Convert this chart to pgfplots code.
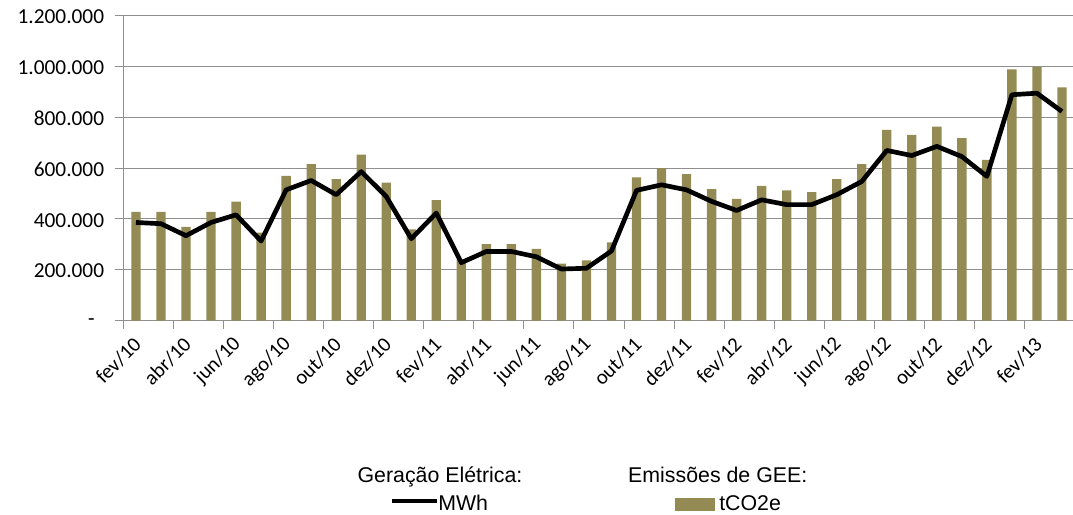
\documentclass[border=0pt]{standalone}
\usepackage{fontspec}
\setmainfont{Carlito}
\newfontfamily\legendfont{Liberation Sans}
\usepackage{pgfplots}
\pgfplotsset{compat=1.18}
\definecolor{barolive}{HTML}{948A54}
\definecolor{gridgray}{HTML}{8F8F8F}

% monthly values, fev/10 .. mar/13
\pgfplotstableread{
idx tco2e  mwh
1   428000 386000
2   428000 381000
3   369000 334000
4   428000 386000
5   468000 416000
6   346000 313000
7   569000 514000
8   615000 551000
9   556000 495000
10  653000 586000
11  543000 488000
12  359000 322000
13  474000 423000
14  240000 228000
15  301000 272000
16  301000 272000
17  282000 251000
18  224000 203000
19  237000 206000
20  308000 274000
21  563000 512000
22  600000 534000
23  576000 514000
24  517000 469000
25  479000 433000
26  530000 475000
27  512000 456000
28  505000 456000
29  556000 495000
30  615000 547000
31  750000 669000
32  730000 649000
33  763000 685000
34  717000 645000
35  632000 567000
36  988000 888000
37  997000 894000
38  917000 822000
}\gee

\begin{document}
\begin{tikzpicture}
\path[use as bounding box] (0,0) rectangle (804.75pt,-385.5pt);
\begin{axis}[
  at={(92.6pt,-240.5pt)}, anchor=south west,
  scale only axis, width=713.25pt, height=229pt,
  xmin=0.5, xmax=38.5, ymin=0, ymax=1200000,
  axis x line*=bottom, axis y line*=left,
  axis line style={draw=gridgray, line width=0.75pt, -},
  ymajorgrids, grid style={draw=gridgray, line width=0.75pt},
  tick align=outside, major tick length=6pt,
  tick style={draw=gridgray, line width=0.75pt},
  scaled y ticks=false,
  ytick={0,200000,400000,600000,800000,1000000,1200000},
  yticklabels={{-\hspace*{7pt}},200.000,400.000,600.000,800.000,1.000.000,1.200.000},
  yticklabel style={font=\fontsize{16}{19}\selectfont, xshift=-5pt, yshift=-1pt},
  xtick={0.5,2.5,4.5,6.5,8.5,10.5,12.5,14.5,16.5,18.5,20.5,22.5,24.5,26.5,28.5,30.5,32.5,34.5,36.5},
  xticklabels={fev/10,abr/10,jun/10,ago/10,out/10,dez/10,fev/11,abr/11,jun/11,ago/11,out/11,dez/11,fev/12,abr/12,jun/12,ago/12,out/12,dez/12,fev/13},
  xticklabel style={font=\fontsize{15.5}{18}\selectfont, xshift=13pt, yshift=-7pt, rotate=45, anchor=east},
  tick label style={text=black},
]
\addplot[ybar, bar width=7pt, fill=barolive, draw=none] table[x=idx, y=tco2e] {\gee};
\addplot[black, line width=3.5pt, line join=round, mark=none] table[x=idx, y=mwh] {\gee};
\end{axis}

% legend
\begin{scope}[font=\legendfont\fontsize{16}{19}\selectfont]
\node[anchor=base, inner sep=0pt] at (330pt,-362pt) {Geração Elétrica:};
\draw[black, line width=3pt] (294pt,-376.1pt) -- (327.75pt,-376.1pt);
\node[anchor=base west, inner sep=0pt] at (328.5pt,-382.5pt) {MWh};
\node[anchor=base, inner sep=0pt] at (538.3pt,-362pt) {Emissões de GEE:};
\fill[barolive] (506.25pt,-373.3pt) rectangle (536.25pt,-383.25pt);
\node[anchor=base west, inner sep=0pt] at (539.25pt,-382.5pt) {tCO2e};
\end{scope}
\end{tikzpicture}
\end{document}
